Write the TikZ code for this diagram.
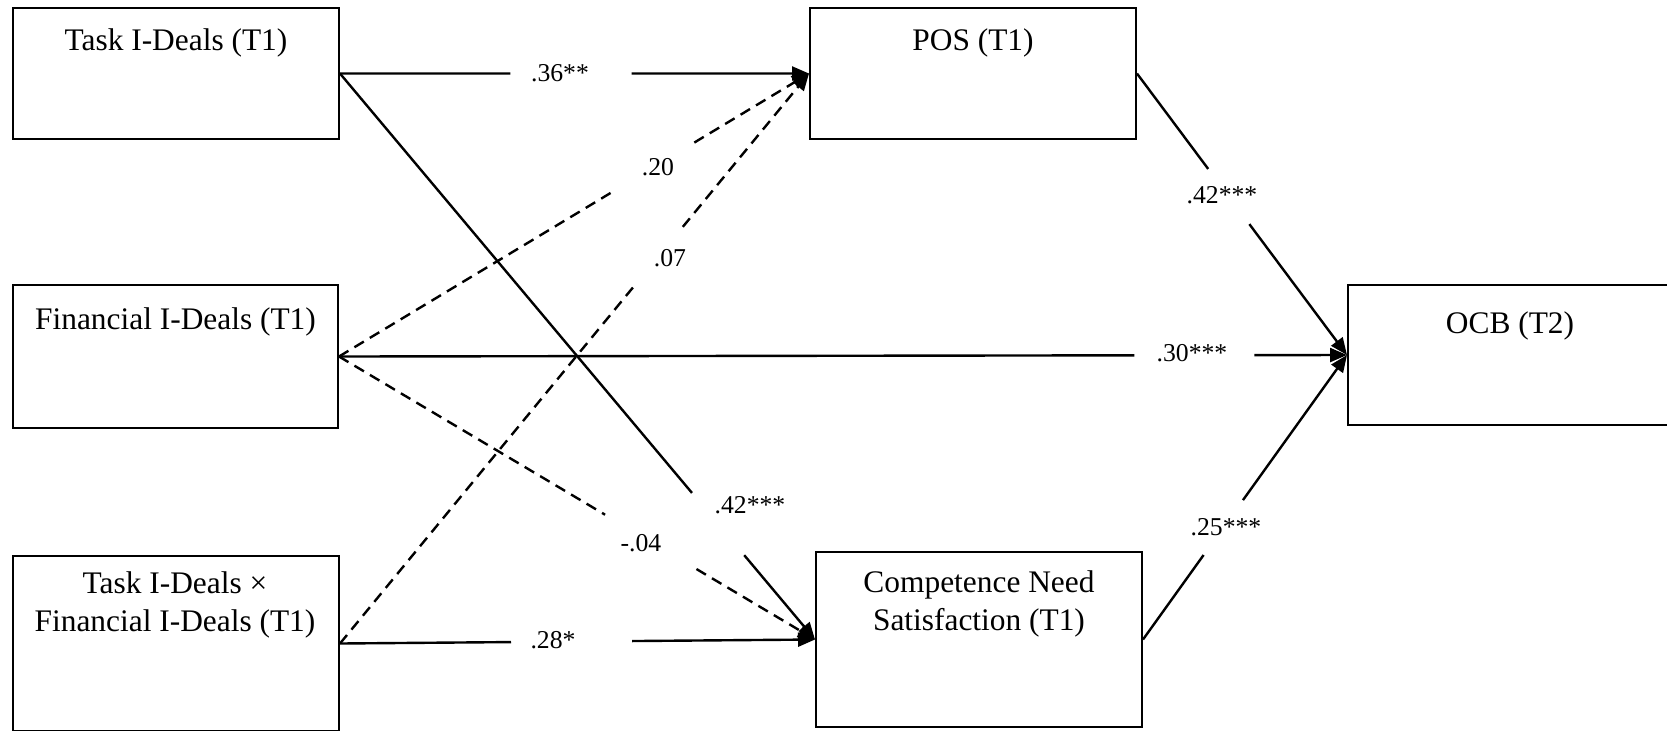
\documentclass[tikz,border=0pt]{standalone}
\usepackage{fontspec}
\setmainfont{Liberation Serif}
\usetikzlibrary{arrows.meta,calc}
\tikzset{
  box/.style={draw, line width=1pt, rectangle, inner sep=0pt},
  boxtxt/.style={inner sep=0pt, anchor=base, font=\fontsize{15.7pt}{19pt}\selectfont},
  lab/.style={inner sep=0pt, anchor=center, font=\fontsize{12.85pt}{15pt}\selectfont},
  conn/.style={line width=1.2pt},
  dsh/.style={line width=1.2pt, dash pattern=on 5.5pt off 3.5pt},
  arr/.style={-{Triangle[length=8.5pt,width=7pt]}}
}
\newcommand{\gapconn}[5]{%
  \draw[#1] (#2) -- ($(#2)!#4!(#3)$);
  \draw[#1,arr] ($(#2)!#5!(#3)$) -- (#3);}
\begin{document}
\begin{tikzpicture}[x=0.5pt,y=-0.5pt]
\useasboundingbox (0,0) rectangle (1667,730);
% boxes
\node[box, minimum width=163pt, minimum height=65.5pt] (t1) at (176,73.5) {};
\node[box, minimum width=162.5pt, minimum height=71.5pt] (fin) at (175.5,356.5) {};
\node[box, minimum width=163pt, minimum height=87.5pt] (int) at (176,643.5) {};
\node[box, minimum width=163pt, minimum height=65.5pt] (posn) at (973,73.5) {};
\node[box, minimum width=163pt, minimum height=87.5pt] (comp) at (979,639.5) {};
\node[box, minimum width=160pt, minimum height=70pt] (ocb) at (1508,355) {};
% box texts
\node[boxtxt] (t1t) at (176,50) {Task I-Deals (T1)};
\node[boxtxt] (fint) at (175.5,329) {Financial I-Deals (T1)};
\node[boxtxt] (intt) at (175,593) {\begin{tabular}[t]{@{}c@{}}Task I-Deals ×\\Financial I-Deals (T1)\end{tabular}};
\node[boxtxt] (post) at (973,50) {POS (T1)};
\node[boxtxt] (compt) at (979,592) {\begin{tabular}[t]{@{}c@{}}Competence Need\\Satisfaction (T1)\end{tabular}};
\node[boxtxt] (ocbt) at (1510,333) {OCB (T2)};
% connectors (with gaps for the coefficients)
\gapconn{conn}{t1.east}{posn.west}{0.363}{0.622}
\gapconn{conn}{t1.east}{comp.west}{0.741}{0.851}
\gapconn{dsh}{fin.east}{posn.west}{0.583}{0.756}
\gapconn{dsh}{int.east}{posn.west}{0.633}{0.731}
\gapconn{conn}{fin.east}{ocb.west}{0.789}{0.908}
\gapconn{dsh}{fin.east}{comp.west}{0.559}{0.751}
\gapconn{conn}{int.east}{comp.west}{0.360}{0.615}
\gapconn{conn}{posn.east}{ocb.west}{0.339}{0.535}
\gapconn{conn}{comp.east}{ocb.west}{0.297}{0.490}
% coefficients
\node[lab] (l1) at (560,73) {.36**};
\node[lab] (l2) at (750,505) {.42***};
\node[lab] (l3) at (658,167) {.20};
\node[lab] (l4) at (670,258) {.07};
\node[lab] (l5) at (1192,353) {.30***};
\node[lab] (l6) at (641,543) {-.04};
\node[lab] (l7) at (553,640) {.28*};
\node[lab] (l8) at (1222,195) {.42***};
\node[lab] (l9) at (1226,527) {.25***};
\end{tikzpicture}
\end{document}
